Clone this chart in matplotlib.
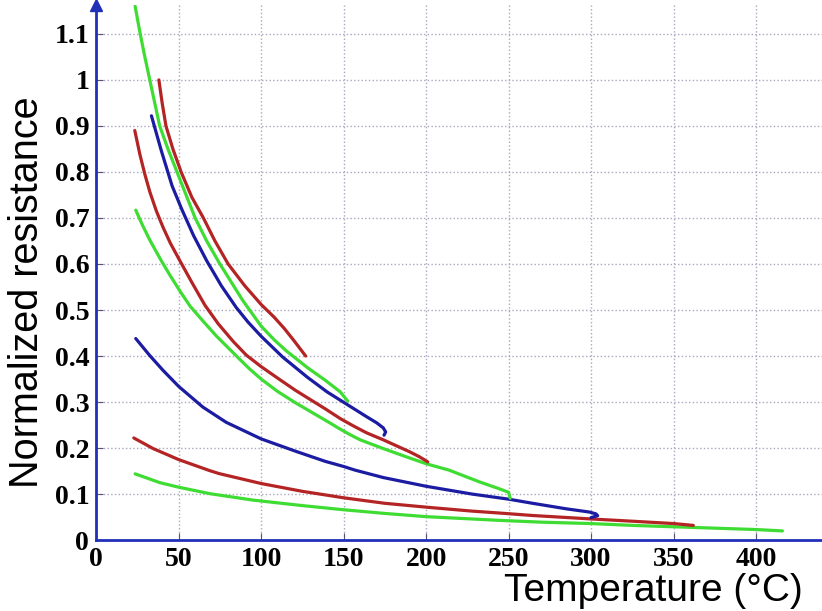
#! /usr/bin/env python

import matplotlib
matplotlib.use("Agg")
import matplotlib.pyplot as plt

# curves: (temperature, normalized resistance)
g1_x = [23.6, 26.7, 29.5, 32.5, 38.5, 43.5, 49, 54.5, 60, 67, 75, 89, 100, 108, 115, 128, 139, 148, 152.5]
g1_y = [1.16, 1.1, 1.05, 1.0, 0.9, 0.85, 0.8, 0.75, 0.70, 0.65, 0.60, 0.52, 0.465, 0.435, 0.412, 0.375, 0.347, 0.322, 0.302]

r1_x = [38, 40, 42.3, 46.5, 51.5, 58, 65, 72, 80, 90, 100, 108, 114, 120, 127]
r1_y = [1.0, 0.95, 0.9, 0.85, 0.80, 0.745, 0.70, 0.65, 0.60, 0.553, 0.512, 0.484, 0.46, 0.433, 0.40]

b1_x = [33.5, 39.5, 46, 52, 59, 67, 76, 85, 92, 100, 113, 128, 140, 148, 156, 164, 170, 174, 175.5, 174.5]
b1_y = [0.922, 0.846, 0.77, 0.718, 0.662, 0.607, 0.552, 0.505, 0.474, 0.443, 0.398, 0.354, 0.322, 0.304, 0.286, 0.268, 0.255, 0.244, 0.235, 0.228]

r2_x = [23.4, 26.5, 29.5, 32.5, 36.5, 40.5, 45, 50.6, 58, 66, 74, 83, 91, 100, 110, 121, 130, 139, 148, 156, 164, 174, 182, 190, 196, 201]
r2_y = [0.89, 0.838, 0.795, 0.757, 0.715, 0.68, 0.645, 0.608, 0.56, 0.51, 0.47, 0.432, 0.402, 0.377, 0.352, 0.325, 0.305, 0.285, 0.264, 0.248, 0.233, 0.218, 0.205, 0.192, 0.181, 0.17]

g2_x = [24, 28, 32.5, 39.5, 45, 51, 57, 65, 73, 80, 87, 93, 100, 110, 121, 132, 142, 148, 154, 160, 174, 188, 200, 214, 232, 244, 250, 250.5, 251]
g2_y = [0.717, 0.685, 0.652, 0.607, 0.574, 0.54, 0.508, 0.475, 0.443, 0.418, 0.393, 0.372, 0.35, 0.323, 0.298, 0.275, 0.254, 0.241, 0.229, 0.218, 0.199, 0.181, 0.166, 0.152, 0.127, 0.112, 0.104, 0.097, 0.091]

b2_x = [24, 32.5, 40.5, 50, 64.7, 78.8, 100, 121, 139, 150, 157, 174, 200, 228, 250, 264.6, 285, 299, 303, 304, 300]
b2_y = [0.438, 0.401, 0.369, 0.334, 0.289, 0.256, 0.22, 0.193, 0.171, 0.160, 0.152, 0.136, 0.117, 0.100, 0.089, 0.08, 0.068, 0.061, 0.057, 0.053, 0.049]

r3_x = [22.8, 34.5, 50, 68.8, 74.6, 100, 125, 150, 175, 202, 228, 244, 264.6, 300, 325.5, 350, 362]
r3_y = [0.222, 0.199, 0.175, 0.151, 0.1445, 0.123, 0.106, 0.092, 0.08, 0.071, 0.063, 0.059, 0.0535, 0.046, 0.041, 0.036, 0.032]

g3_x = [23.6, 38.5, 50, 68.8, 95, 100, 125, 150, 175, 200, 244, 270, 300, 325, 350, 375, 400, 416]
g3_y = [0.144, 0.125, 0.115, 0.101, 0.087, 0.085, 0.075, 0.066, 0.058, 0.051, 0.043, 0.039, 0.036, 0.032, 0.029, 0.026, 0.023, 0.020]

x_ticks = [0, 50, 100, 150, 200, 250, 300, 350, 400]
y_ticks = [0, 0.1, 0.2, 0.3, 0.4, 0.5, 0.6, 0.7, 0.8, 0.9, 1, 1.1]
y_labels = ["0", "0.1", "0.2", "0.3", "0.4", "0.5", "0.6", "0.7", "0.8", "0.9", "1", "1.1"]

green = "#3fdc34"
red = "#b42424"
blue = "#1c1ca2"
axis_blue = "#2030b8"

fig = plt.figure(figsize=(8.22, 6.11), dpi=100)
ax = fig.add_axes([0.117, 0.116, 0.883, 0.876])

for xs, ys, c in [(g3_x, g3_y, green), (r3_x, r3_y, red), (b2_x, b2_y, blue),
                  (g2_x, g2_y, green), (r2_x, r2_y, red), (b1_x, b1_y, blue),
                  (g1_x, g1_y, green), (r1_x, r1_y, red)]:
	ax.plot(xs, ys, color=c, lw=2.3, solid_capstyle="round", solid_joinstyle="round")

ax.set_xlim(0, 440)
ax.set_ylim(0, 1.163)
ax.set_xticks(x_ticks)
ax.set_yticks(y_ticks)
ax.set_yticklabels(y_labels)

ax.grid(True, color="#a8a8c0", linestyle=":", lw=1.0)
for s in ["top", "right"]:
	ax.spines[s].set_visible(False)
for s in ["left", "bottom"]:
	ax.spines[s].set_color(axis_blue)
	ax.spines[s].set_linewidth(2)
ax.plot(0, 1, "^", color=axis_blue, ms=8, transform=ax.transAxes, clip_on=False)

ax.tick_params(direction="in", length=5, color="#555577", pad=5)
for lab in ax.get_xticklabels() + ax.get_yticklabels():
	lab.set_fontfamily("Liberation Serif")
	lab.set_fontweight("bold")
	lab.set_fontsize(20)

fig.text(0.977, 0.016, "Temperature (\u00b0C)", ha="right", va="baseline",
	fontsize=28, family="Liberation Sans")
fig.text(0.033, 0.522, "Normalized resistance", ha="center", va="center",
	rotation=90, fontsize=28.5, family="Liberation Sans")

fig.savefig("out.png", dpi=100)
